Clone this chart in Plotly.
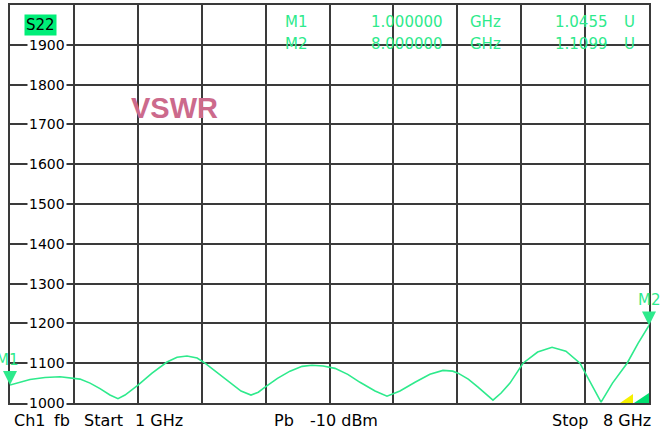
import numpy as np
import plotly.graph_objects as go

# ---------------- data ----------------
freq_ghz = [1.000, 1.110, 1.219, 1.383, 1.548, 1.767, 1.877, 1.986, 2.095, 2.183,
            2.260, 2.402, 2.556, 2.720, 2.830, 2.939, 3.050, 3.136, 3.279, 3.410,
            3.531, 3.640, 3.720, 3.794, 3.930, 4.067, 4.200, 4.308, 4.430, 4.560,
            4.700, 4.834, 4.999, 5.130, 5.272, 5.437, 5.600, 5.743, 5.850, 5.908,
            6.020, 6.127, 6.220, 6.291, 6.380, 6.477, 6.620, 6.780, 6.938, 7.090,
            7.244, 7.354, 7.475, 7.600, 7.760, 7.880, 8.000]
vswr_milli = [1045, 1053, 1059, 1064, 1066, 1060, 1050, 1036, 1020, 1011,
              1020, 1045, 1075, 1103, 1115, 1118, 1113, 1100, 1075, 1050,
              1030, 1020, 1027, 1040, 1062, 1080, 1092, 1095, 1093, 1087,
              1072, 1052, 1030, 1017, 1030, 1052, 1072, 1082, 1080, 1075,
              1060, 1040, 1020, 1007, 1025, 1050, 1100, 1128, 1140, 1130,
              1100, 1055, 1002, 1050, 1100, 1150, 1195]
y_ticks = [1000, 1100, 1200, 1300, 1400, 1500, 1600, 1700, 1800, 1900]
marker_names = ["M1", "M2"]
marker_freq = [1.0, 8.0]
marker_freq_text = ["1.000000", "8.000000"]
marker_value_text = ["1.0455", "1.1099"]
x_start, x_stop = 1.0, 8.0
y_min, y_max = 1000, 2000

GREEN = "#2eea8c"
FONT = "DejaVu Sans"

# pixel helpers for overlay decorations (plot area 10..649 x, 3..403 y)
def px(x):
    return (x - 10) / 639.0

def py(y):
    return (403 - y) / 400.0

fig = go.Figure()
fig.add_trace(go.Scatter(x=freq_ghz, y=vswr_milli, mode="lines",
                         line=dict(color=GREEN, width=1.6), hoverinfo="skip"))

ann = []
# y tick labels drawn on grid lines
for t in y_ticks:
    ann.append(dict(x=px(67), xref="paper", y=t, yref="y", text=str(t),
                    xanchor="right", yanchor="middle", showarrow=False,
                    bgcolor="white", borderpad=1,
                    font=dict(family=FONT, size=14, color="black")))

# marker triangles and labels
marker_vals = np.interp(marker_freq, freq_ghz, vswr_milli)
label_dx = [-3, 0]
for name, f, v, dx in zip(marker_names, marker_freq, marker_vals, label_dx):
    ann.append(dict(x=f, y=v, xref="x", yref="y", text="", showarrow=True,
                    arrowhead=2, arrowsize=1.4, arrowwidth=2, arrowcolor=GREEN,
                    ax=0, ay=-13, standoff=0))
    ann.append(dict(x=f, y=v, xref="x", yref="y", text=name, showarrow=False,
                    xanchor="center", yanchor="bottom", yshift=14, xshift=dx,
                    font=dict(family=FONT, size=15, color=GREEN)))

# marker table at top
row_y = [20, 42]
cols = [283, 369, 468, 553, 622]
for i, name in enumerate(marker_names):
    vals = [name, marker_freq_text[i], "GHz", marker_value_text[i], "U"]
    for c, s in zip(cols, vals):
        ann.append(dict(x=px(c), y=py(row_y[i]), xref="paper", yref="paper",
                        text=s, showarrow=False, xanchor="left", yanchor="middle",
                        font=dict(family=FONT, size=15, color=GREEN)))

# S22 label
ann.append(dict(x=px(24), y=py(23), xref="paper", yref="paper", text="S22",
                showarrow=False, xanchor="left", yanchor="middle",
                bgcolor="#00ee78", borderpad=1,
                font=dict(family=FONT, size=15, color="black")))
# VSWR title
ann.append(dict(x=px(129), y=py(107), xref="paper", yref="paper", text="<b>VSWR</b>",
                showarrow=False, xanchor="left", yanchor="middle",
                font=dict(family="Liberation Sans", size=29, color="#cc6a8c")))

# footer
footer = [("Ch1", 12), ("fb", 52), ("Start", 82), ("1 GHz", 133),
          ("Pb", 272), ("-10 dBm", 308), ("Stop", 550), ("8 GHz", 601)]
for s, xp in footer:
    ann.append(dict(x=px(xp), y=py(421), xref="paper", yref="paper", text=s,
                    showarrow=False, xanchor="left", yanchor="middle",
                    font=dict(family=FONT, size=16, color="black")))

shapes = [
    dict(type="path", xref="paper", yref="paper",
         path=f"M {px(620)},{py(403)} L {px(633)},{py(403)} L {px(633)},{py(394)} Z",
         fillcolor="#f5f000", line=dict(width=0)),
    dict(type="path", xref="paper", yref="paper",
         path=f"M {px(634)},{py(403)} L {px(649)},{py(403)} L {px(649)},{py(393)} Z",
         fillcolor="#00e070", line=dict(width=0)),
]

fig.update_layout(
    width=663, height=434,
    margin=dict(l=10, r=14, t=3, b=31),
    paper_bgcolor="white", plot_bgcolor="white",
    showlegend=False,
    annotations=ann, shapes=shapes,
    xaxis=dict(range=[x_start, x_stop], tick0=x_start, dtick=(x_stop - x_start) / 10,
               showgrid=True, gridcolor="#3a3a3a", gridwidth=1.5,
               showticklabels=False, ticks="", zeroline=False,
               showline=True, linecolor="#3a3a3a", linewidth=2, mirror=True),
    yaxis=dict(range=[y_min, y_max], tick0=y_min, dtick=100,
               showgrid=True, gridcolor="#3a3a3a", gridwidth=1.5,
               showticklabels=False, ticks="", zeroline=False,
               showline=True, linecolor="#3a3a3a", linewidth=2, mirror=True),
)

fig.write_html("out.html", config={"displayModeBar": False},
               post_script="document.body.style.margin='0';document.body.style.overflow='hidden';")
